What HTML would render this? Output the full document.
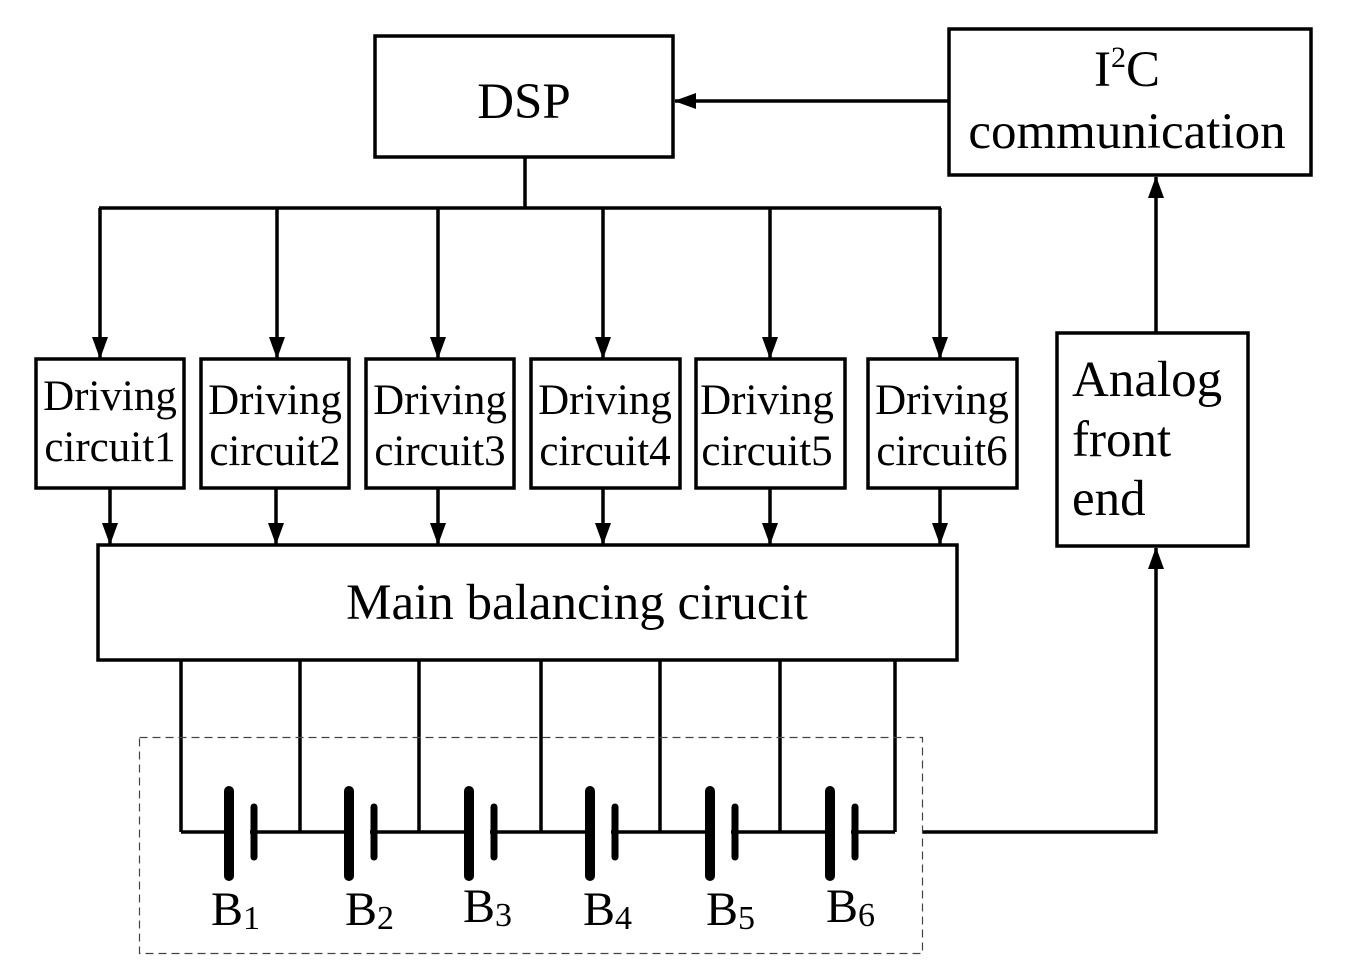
<!DOCTYPE html>
<html><head><style>
body{margin:0;background:#fff}
svg{display:block}
text{font-family:"Liberation Serif",serif;fill:#000}
</style></head><body>
<svg width="1346" height="969" viewBox="0 0 1346 969" xmlns="http://www.w3.org/2000/svg">
<defs><marker id="a" markerWidth="22" markerHeight="20" refX="21" refY="10" orient="auto" markerUnits="userSpaceOnUse"><path d="M0,2 L22,10 L0,18 Z" fill="#000"/></marker></defs>
<g fill="none" stroke="#000" stroke-width="3.5">
<rect x="375" y="36" width="298" height="121"/>
<rect x="949" y="29" width="362" height="146"/>
<rect x="36" y="359" width="148" height="129"/>
<rect x="201" y="359" width="148" height="129"/>
<rect x="366" y="359" width="148" height="129"/>
<rect x="531" y="359" width="149" height="129"/>
<rect x="696" y="359" width="149" height="129"/>
<rect x="868" y="359" width="149" height="129"/>
<rect x="98" y="545" width="859" height="115"/>
<rect x="1057" y="333" width="191" height="213"/>
<line x1="949" y1="101" x2="675" y2="101" marker-end="url(#a)"/>
<polyline points="525,157 525,208"/>
<line x1="99" y1="208" x2="941" y2="208"/>
<line x1="100" y1="208" x2="100" y2="358" marker-end="url(#a)"/>
<line x1="277" y1="208" x2="277" y2="358" marker-end="url(#a)"/>
<line x1="438" y1="208" x2="438" y2="358" marker-end="url(#a)"/>
<line x1="603" y1="208" x2="603" y2="358" marker-end="url(#a)"/>
<line x1="770" y1="208" x2="770" y2="358" marker-end="url(#a)"/>
<line x1="940" y1="208" x2="940" y2="358" marker-end="url(#a)"/>
<line x1="110" y1="488" x2="110" y2="544" marker-end="url(#a)"/>
<line x1="276" y1="488" x2="276" y2="544" marker-end="url(#a)"/>
<line x1="438" y1="488" x2="438" y2="544" marker-end="url(#a)"/>
<line x1="603" y1="488" x2="603" y2="544" marker-end="url(#a)"/>
<line x1="770" y1="488" x2="770" y2="544" marker-end="url(#a)"/>
<line x1="940" y1="488" x2="940" y2="544" marker-end="url(#a)"/>
<line x1="1156" y1="333" x2="1156" y2="177" marker-end="url(#a)"/>
<polyline points="922,832 1156,832 1156,548" marker-end="url(#a)"/>
<line x1="181" y1="660" x2="181" y2="832"/>
<line x1="300" y1="660" x2="300" y2="832"/>
<line x1="419" y1="660" x2="419" y2="832"/>
<line x1="541" y1="660" x2="541" y2="832"/>
<line x1="660" y1="660" x2="660" y2="832"/>
<line x1="780" y1="660" x2="780" y2="832"/>
<line x1="895" y1="660" x2="895" y2="832"/>
<line x1="181" y1="832" x2="895" y2="832"/>
</g>
<rect x="139.5" y="737.5" width="783" height="216" fill="none" stroke="#444" stroke-width="1.2" stroke-dasharray="8,5"/>
<g stroke="#000" stroke-linecap="round">
<g id="b">
<rect x="234" y="820" width="16" height="24" fill="#fff" stroke="none"/>
<line x1="229" y1="791" x2="229" y2="876" stroke-width="10"/>
<line x1="254" y1="807" x2="254" y2="857" stroke-width="7"/>
</g>
<use href="#b" x="120"/><use href="#b" x="240"/><use href="#b" x="361"/><use href="#b" x="481"/><use href="#b" x="601"/>
</g>
<text x="524" y="118" font-size="51" text-anchor="middle">DSP</text>
<text x="1127" y="86" font-size="51" text-anchor="middle">I<tspan font-size="30" dy="-19">2</tspan><tspan dy="19">C</tspan></text>
<text x="1127" y="148" font-size="51" text-anchor="middle">communication</text>
<g font-size="43" text-anchor="middle">
<text x="110" y="410">Driving</text><text x="110" y="461">circuit1</text>
<text x="275" y="414">Driving</text><text x="275" y="465">circuit2</text>
<text x="440" y="414">Driving</text><text x="440" y="465">circuit3</text>
<text x="605" y="414">Driving</text><text x="605" y="465">circuit4</text>
<text x="767" y="414">Driving</text><text x="767" y="465">circuit5</text>
<text x="942" y="414">Driving</text><text x="942" y="465">circuit6</text>
</g>
<text x="577" y="619" font-size="51" text-anchor="middle">Main balancing cirucit</text>
<g font-size="51"><text x="1072" y="396">Analog</text><text x="1072" y="456">front</text><text x="1072" y="515">end</text></g>
<g font-size="48">
<text x="211" y="925">B<tspan font-size="34" dy="4">1</tspan></text>
<text x="345" y="925">B<tspan font-size="34" dy="4">2</tspan></text>
<text x="463" y="922">B<tspan font-size="34" dy="4">3</tspan></text>
<text x="583" y="925">B<tspan font-size="34" dy="4">4</tspan></text>
<text x="706" y="925">B<tspan font-size="34" dy="4">5</tspan></text>
<text x="826" y="922">B<tspan font-size="34" dy="4">6</tspan></text>
</g>
</svg>
</body></html>
